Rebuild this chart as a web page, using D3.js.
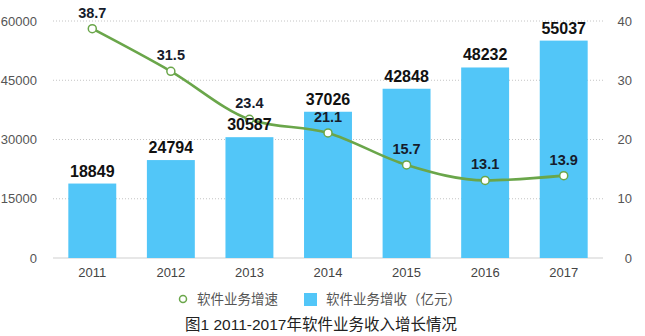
<!DOCTYPE html>
<html>
<head>
<meta charset="utf-8">
<script src="https://cdn.jsdelivr.net/npm/d3@7/dist/d3.min.js"></script>
<style>
  html, body { margin: 0; padding: 0; background: #fff; }
  svg { display: block; font-family: "Liberation Sans", Arial, "Noto Sans CJK SC", sans-serif; }
</style>
</head>
<body>
<svg id="chart" width="645" height="336"></svg>
<script>
// Software business revenue (100M yuan) and growth rate (%), 2011-2017
const years = ["2011", "2012", "2013", "2014", "2015", "2016", "2017"];
const revenue = [18849, 24794, 30587, 37026, 42848, 48232, 55037];
const growth = [38.7, 31.5, 23.4, 21.1, 15.7, 13.1, 13.9];
const leftTicks = [0, 15000, 30000, 45000, 60000];
const rightTicks = [0, 10, 20, 30, 40];
const legendLabels = ["软件业务增速", "软件业务增收（亿元）"];
const titleText = "图1 2011-2017年软件业务收入增长情况";

const barColor = "#52c6f8";
const lineColor = "#6aa64a";

const svg = d3.select("#chart");
const plotL = 53, plotR = 603, plotT = 21, plotB = 258;

const x = d3.scaleBand().domain(years).range([plotL, plotR])
  .paddingInner(0.39).paddingOuter(0.195);
const yL = d3.scaleLinear().domain([0, 60000]).range([plotB, plotT]);
const yR = d3.scaleLinear().domain([0, 40]).range([plotB, plotT]);

// dotted gridlines
svg.append("g").selectAll("line").data(leftTicks.filter(d => d > 0)).join("line")
  .attr("x1", plotL).attr("x2", plotR)
  .attr("y1", d => yL(d)).attr("y2", d => yL(d))
  .attr("stroke", "#c4c4c4").attr("stroke-width", 1)
  .attr("stroke-dasharray", "1,2");

// baseline
svg.append("line").attr("x1", plotL).attr("x2", plotR)
  .attr("y1", yL(0)).attr("y2", yL(0))
  .attr("stroke", "#cfcfcf").attr("stroke-width", 1);

// left axis
const gl = svg.append("g").attr("transform", `translate(${plotL},0)`)
  .call(d3.axisLeft(yL).tickValues(leftTicks).tickSize(0).tickPadding(16).tickFormat(d3.format("d")));
gl.select(".domain").remove();
gl.selectAll("text").attr("fill", "#555").attr("font-size", 13)
  .attr("font-family", "'Liberation Sans', Arial, sans-serif");

// right axis
const gr = svg.append("g").attr("transform", `translate(${plotR},0)`)
  .call(d3.axisRight(yR).tickValues(rightTicks).tickSize(0).tickPadding(29));
gr.select(".domain").remove();
gr.selectAll("text").attr("fill", "#555").attr("font-size", 13)
  .attr("text-anchor", "end")
  .attr("font-family", "'Liberation Sans', Arial, sans-serif");

// bottom axis
const gb = svg.append("g").attr("transform", `translate(0,${plotB})`)
  .call(d3.axisBottom(x).tickSize(0).tickPadding(10));
gb.select(".domain").remove();
gb.selectAll("text").attr("fill", "#444").attr("font-size", 13)
  .attr("font-family", "'Liberation Sans', Arial, sans-serif");

// bars
svg.append("g").selectAll("rect").data(years).join("rect")
  .attr("x", d => x(d)).attr("width", x.bandwidth())
  .attr("y", (d, i) => yL(revenue[i]))
  .attr("height", (d, i) => yL(0) - yL(revenue[i]))
  .attr("fill", barColor);

// growth line
const cx = d => x(d) + x.bandwidth() / 2;
const line = d3.line()
  .x((d, i) => cx(years[i]))
  .y(d => yR(d))
  .curve(d3.curveMonotoneX);
svg.append("path").datum(growth)
  .attr("d", line)
  .attr("fill", "none").attr("stroke", lineColor).attr("stroke-width", 2.6);

svg.append("g").selectAll("circle").data(growth).join("circle")
  .attr("cx", (d, i) => cx(years[i])).attr("cy", d => yR(d))
  .attr("r", 4).attr("fill", "#fff")
  .attr("stroke", lineColor).attr("stroke-width", 1.5);

// bar value labels
svg.append("g").selectAll("text").data(revenue).join("text")
  .attr("x", (d, i) => cx(years[i])).attr("y", d => yL(d) - 7)
  .attr("text-anchor", "middle").attr("font-size", 16).attr("font-weight", "bold")
  .attr("fill", "#111")
  .text(d => d);

// growth value labels
svg.append("g").selectAll("text").data(growth).join("text")
  .attr("x", (d, i) => cx(years[i])).attr("y", d => yR(d) - 11)
  .attr("text-anchor", "middle").attr("font-size", 14.5).attr("font-weight", "bold")
  .attr("fill", "#161c2c")
  .text(d => d3.format(".1f")(d));

// legend
const lg = svg.append("g");
lg.append("circle").attr("cx", 183).attr("cy", 299).attr("r", 3.5)
  .attr("fill", "#fff").attr("stroke", lineColor).attr("stroke-width", 1.5);
lg.append("text").attr("x", 197).attr("y", 304).attr("font-size", 13.5)
  .attr("fill", "#555").attr("font-family", "'Noto Sans CJK SC', sans-serif")
  .text(legendLabels[0]);
lg.append("rect").attr("x", 304).attr("y", 293).attr("width", 13).attr("height", 13)
  .attr("fill", barColor);
lg.append("text").attr("x", 326).attr("y", 304).attr("font-size", 13.5)
  .attr("fill", "#555").attr("font-family", "'Noto Sans CJK SC', sans-serif")
  .text(legendLabels[1]);

// caption (latin digits in Liberation Sans, CJK falls back to Noto)
svg.append("text").attr("x", 321).attr("y", 330).attr("text-anchor", "middle")
  .attr("font-size", 15.5).attr("fill", "#222")
  .attr("font-family", "'Liberation Sans', 'Noto Sans CJK SC', sans-serif")
  .text(titleText);
</script>
</body>
</html>
